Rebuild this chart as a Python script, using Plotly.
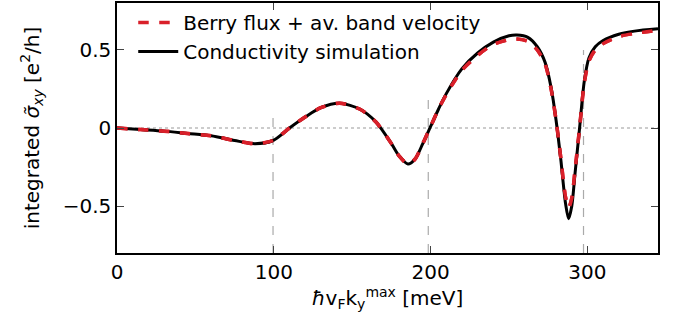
import plotly.graph_objects as go

# Conductivity simulation (black solid)
x_sim = [0, 15, 30, 45, 60, 75, 88, 99.5, 110, 120, 130, 142, 155, 165, 175, 180, 185.5, 190, 195, 200,
         205, 210, 220, 230, 240, 250, 255, 262, 268, 273, 277, 280, 283, 286, 288, 290, 292, 295,
         298, 301, 305, 310, 320, 330, 345]
y_sim = [0, -0.01, -0.02, -0.035, -0.05, -0.08, -0.10, -0.08, 0.0, 0.07, 0.13, 0.158, 0.12, 0.04, -0.10, -0.18, -0.23, -0.20, -0.10, 0.01,
         0.12, 0.22, 0.38, 0.48, 0.55, 0.59, 0.595, 0.58, 0.52, 0.42, 0.25, 0.05, -0.2, -0.48, -0.58, -0.5, -0.3, 0.0,
         0.3, 0.45, 0.52, 0.56, 0.60, 0.62, 0.635]

# Berry flux + av. band velocity (red dashed)
x_berry = x_sim
y_berry = [0, -0.01, -0.02, -0.035, -0.05, -0.08, -0.10, -0.08, 0.0, 0.07, 0.13, 0.158, 0.12, 0.04, -0.10, -0.18, -0.23, -0.20, -0.10, 0.01,
           0.12, 0.215, 0.37, 0.465, 0.535, 0.565, 0.57, 0.555, 0.50, 0.41, 0.24, 0.05, -0.19, -0.44, -0.51, -0.45, -0.28, 0.0,
           0.29, 0.43, 0.50, 0.54, 0.585, 0.605, 0.625]

# vertical guide lines (x position, upper end)
guide_x = [99.5, 198.5, 297.5]
guide_top = [0.095, 0.18, 0.5]
y_bottom = -0.8

x_ticks = [0, 100, 200, 300]
y_ticks = [-0.5, 0, 0.5]
y_ticktext = ["\u22120.5", "0", "0.5"]

fig = go.Figure()

# zero line (dotted)
fig.add_trace(go.Scatter(x=[0, 345], y=[0, 0], mode="lines",
                         line=dict(color="#999999", width=1, dash="dot"),
                         showlegend=False, hoverinfo="skip"))
for gx, gt in zip(guide_x, guide_top):
    fig.add_trace(go.Scatter(x=[gx, gx], y=[y_bottom, gt], mode="lines",
                             line=dict(color="#aaaaaa", width=1.2, dash="dash"),
                             showlegend=False, hoverinfo="skip"))

fig.add_trace(go.Scatter(x=x_berry, y=y_berry, mode="lines", name="Berry flux + av. band velocity",
                         line=dict(color="#d9202a", width=3.5, dash="dash", shape="spline", smoothing=0.8),
                         legendrank=1))
fig.add_trace(go.Scatter(x=x_sim, y=y_sim, mode="lines", name="Conductivity simulation",
                         line=dict(color="black", width=3, shape="spline", smoothing=0.8),
                         legendrank=2))
# redraw red dashed on top of black
fig.add_trace(go.Scatter(x=x_berry, y=y_berry, mode="lines", showlegend=False,
                         line=dict(color="#d9202a", width=3.5, dash="dash", shape="spline", smoothing=0.8),
                         hoverinfo="skip"))

font_family = "DejaVu Sans"
fig.update_layout(
    width=688, height=333,
    margin=dict(l=117, r=30, t=1, b=80),
    plot_bgcolor="white", paper_bgcolor="white",
    font=dict(family=font_family, size=20, color="black"),
    showlegend=True,
    legend=dict(x=0.03, y=1.0, xanchor="left", yanchor="top", bgcolor="rgba(0,0,0,0)",
                font=dict(size=20), tracegroupgap=0, itemwidth=40),
    xaxis=dict(range=[0, 345], tickvals=x_ticks, ticks="inside", ticklen=7, tickwidth=1.2,
               showline=True, linecolor="black", linewidth=1.5, mirror="allticks",
               showgrid=False, zeroline=False,
               title=dict(text="<i>ħ</i>v<sub>F</sub>k<sub>y</sub><sup>max</sup> [meV]", standoff=6,
                          font=dict(size=20))),
    yaxis=dict(range=[-0.8, 0.8], tickvals=y_ticks, ticktext=y_ticktext, ticks="inside", ticklen=7,
               tickwidth=1.2, showline=True, linecolor="black", linewidth=1.5, mirror="allticks",
               showgrid=False, zeroline=False,
               title=dict(text="integrated <i>σ̃</i><sub><i>xy</i></sub> [e<sup>2</sup>/h]", standoff=18,
                          font=dict(size=20))),
)

fig.write_html("out.html")
